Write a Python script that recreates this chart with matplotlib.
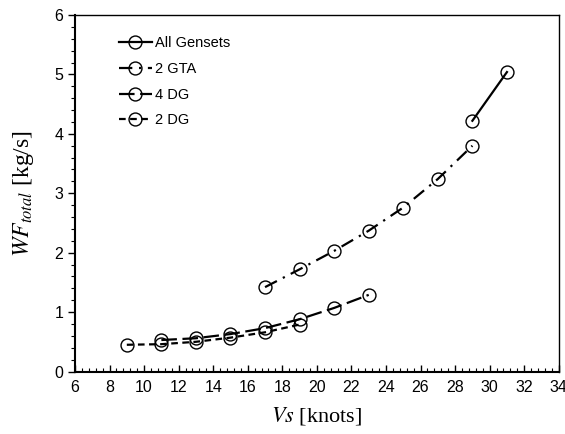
import matplotlib
matplotlib.use("Agg")
import matplotlib.pyplot as plt
from matplotlib.ticker import MultipleLocator

plt.rcParams['font.family'] = ['Liberation Sans', 'DejaVu Sans']
plt.rcParams['mathtext.fontset'] = 'stix'

all_x = [29, 31]
all_y = [4.22, 5.04]
gta_x = [17, 19, 21, 23, 25, 27, 29]
gta_y = [1.42, 1.72, 2.03, 2.37, 2.76, 3.24, 3.80]
dg4_x = [11, 13, 15, 17, 19, 21, 23]
dg4_y = [0.53, 0.56, 0.63, 0.73, 0.88, 1.07, 1.29]
dg2_x = [9, 11, 13, 15, 17, 19]
dg2_y = [0.45, 0.46, 0.50, 0.57, 0.66, 0.79]

fig = plt.figure(figsize=(5.65, 4.34), dpi=100)
ax = fig.add_axes([0.1327, 0.144, 0.989 - 0.1327, 0.9654 - 0.144])

mk = dict(marker='o', markersize=9.3, markerfacecolor='none', markeredgecolor='black',
          markeredgewidth=1.0, color='black', linewidth=1.6)
ax.plot(all_x, all_y, linestyle='-', label='All Gensets', **mk)
ax.plot(gta_x, gta_y, linestyle=(0, (6, 3, 1, 3)), label='2 GTA', **mk)
ax.plot(dg4_x, dg4_y, linestyle=(0, (7, 2.5)), label='4 DG', **mk)
ax.plot(dg2_x, dg2_y, linestyle=(0, (3, 2)), label='2 DG', **mk)

ax.set_xlim(6, 34)
ax.set_ylim(0, 6)
ax.xaxis.set_major_locator(MultipleLocator(2))
ax.xaxis.set_minor_locator(MultipleLocator(0.4))
ax.yaxis.set_major_locator(MultipleLocator(1))
ax.yaxis.set_minor_locator(MultipleLocator(0.2))
ax.tick_params(axis='x', which='major', direction='in', length=5, width=1, labelsize=11.5, pad=6)
ax.tick_params(axis='x', which='minor', direction='in', length=3, width=0.8)
ax.tick_params(axis='y', which='major', direction='out', length=5, width=1, labelsize=11.5)
ax.tick_params(axis='y', which='minor', direction='out', length=3, width=0.8)
for s in ax.spines.values():
    s.set_linewidth(1.0)
ax.spines['bottom'].set_linewidth(1.5)
ax.spines['left'].set_linewidth(1.5)

ax.set_xlabel(r'$Vs$ [knots]', fontsize=16, family='Liberation Serif', labelpad=7)
ax.set_ylabel(r'$WF_{total}$ [kg/s]', fontsize=17, family='Liberation Serif', labelpad=13)

ax.legend(loc='upper left', bbox_to_anchor=(0.063, 0.977), frameon=False, fontsize=10.5,
          handlelength=2.3, handletextpad=0.2, labelspacing=0.8)

fig.savefig('out.png', dpi=100)
